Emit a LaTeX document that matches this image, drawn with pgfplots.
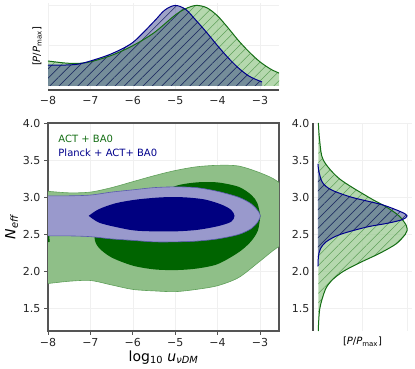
\documentclass[border=0pt]{standalone}
\usepackage{fontspec}
\setmainfont{DejaVu Sans}
\usepackage{pgfplots}
\usepackage{pgfplotstable}
\pgfplotsset{compat=1.18}
\usetikzlibrary{patterns.meta}

\definecolor{cgreenlt}{RGB}{143,191,136}
\definecolor{cgreenedge}{RGB}{95,160,90}
\definecolor{cgreendk}{RGB}{0,100,0}
\definecolor{clav}{RGB}{153,153,204}
\definecolor{claved}{RGB}{90,90,175}
\definecolor{cnavy}{RGB}{0,0,128}
\definecolor{cgfill}{RGB}{150,200,140}
\definecolor{cbfill}{RGB}{40,50,130}
\definecolor{cgline}{RGB}{20,110,20}
\definecolor{cbline}{RGB}{0,0,140}
\definecolor{cspine}{RGB}{85,85,85}

% marginal of log10 u (top)
\pgfplotstableread{
x P
-8.0 0.31
-7.6 0.285
-7.3 0.28
-7.0 0.30
-6.5 0.38
-6.0 0.50
-5.5 0.66
-5.0 0.88
-4.75 0.96
-4.5 1.0
-4.25 0.97
-4.0 0.87
-3.75 0.72
-3.5 0.56
-3.25 0.42
-3.0 0.30
-2.75 0.21
-2.55 0.16
}\topact
\pgfplotstableread{
x P
-8.0 0.26
-7.6 0.26
-7.3 0.27
-7.0 0.31
-6.5 0.40
-6.0 0.54
-5.5 0.80
-5.25 0.94
-5.0 1.0
-4.75 0.95
-4.5 0.81
-4.25 0.66
-4.0 0.50
-3.75 0.35
-3.5 0.22
-3.25 0.12
-3.0 0.06
-2.95 0.05
}\topplanck

% marginal of Neff (right)
\pgfplotstableread{
P N
0.004 4.0
0.02 3.75
0.06 3.5
0.24 3.25
0.57 3.0
0.76 2.875
0.91 2.75
0.99 2.625
1.0 2.55
0.98 2.5
0.88 2.375
0.70 2.25
0.48 2.125
0.28 2.0
0.15 1.875
0.08 1.75
0.02 1.5
0.003 1.2
}\rightact
\pgfplotstableread{
P N
0.0 3.45
0.01 3.35
0.05 3.2
0.15 3.1
0.38 3.0
0.72 2.9
0.94 2.8
1.0 2.75
0.95 2.7
0.78 2.65
0.55 2.6
0.25 2.5
0.09 2.4
0.025 2.3
0.005 2.2
0.0 2.07
}\rightplanck

\begin{document}
\begin{tikzpicture}
\useasboundingbox (0,0) rectangle (415pt,369pt);

% ---------------- main 2D panel ----------------
\begin{axis}[
    at={(48pt,38pt)}, anchor=south west,
    scale only axis, width=231pt, height=208pt,
    xmin=-8, xmax=-2.55, ymin=1.2, ymax=4.0,
    xtick={-8,-7,-6,-5,-4,-3},
    xticklabels={−8,−7,−6,−5,−4,−3},
    ytick={1.5,2,2.5,3,3.5,4},
    yticklabels={1.5,2.0,2.5,3.0,3.5,4.0},
    tick label style={font=\fontsize{11}{13}\selectfont, text=black!85},
    tick align=outside, major tick length=4pt,
    tick style={cspine, line width=0.8pt},
    xtick pos=bottom, ytick pos=left,
    axis line style={cspine, line width=1.3pt},
    grid=major, grid style={black!6, line width=0.5pt},
    xlabel={log\textsubscript{10} \textit{u}\textsubscript{\itshape νDM}},
    ylabel={\textit{N}\textsubscript{\itshape eff}},
    label style={font=\fontsize{14}{16}\selectfont},
    xlabel style={yshift=3pt},
    ylabel style={yshift=-2pt},
]
\addplot[smooth, fill=cgreenlt, draw=cgreenedge, line width=0.6pt] coordinates {
(-8.5,3.10) (-8.0,3.08) (-7.5,3.06) (-7.0,3.07) (-6.5,3.13) (-6.0,3.21)
(-5.5,3.29) (-5.0,3.36) (-4.5,3.41) (-4.0,3.43) (-3.5,3.42) (-3.0,3.33)
(-2.6,3.22) (-2.2,3.0) (-2.0,2.75) (-2.2,2.45) (-2.6,2.32) (-3.0,2.14)
(-3.5,1.92) (-4.0,1.81) (-4.5,1.76) (-5.0,1.73) (-5.5,1.74) (-6.0,1.76)
(-6.5,1.82) (-7.0,1.88) (-7.5,1.87) (-8.0,1.84) (-8.5,1.82) (-8.6,2.5) (-8.5,3.10)};
\addplot[smooth, fill=cgreendk, draw=none] coordinates {
(-2.99,2.75) (-3.05,2.55) (-3.22,2.40) (-3.5,2.26) (-4.0,2.10) (-4.5,2.04)
(-5.0,2.02) (-5.5,2.03) (-6.0,2.08) (-6.5,2.19) (-6.8,2.32) (-6.9,2.45)
(-6.8,2.62) (-6.3,2.80) (-5.5,3.0) (-5.0,3.15) (-4.5,3.20) (-4.0,3.20)
(-3.5,3.14) (-3.2,3.03) (-3.06,2.92) (-2.99,2.75)};
\addplot[fill=cgreendk, draw=none] coordinates {
(-8.2,2.50) (-7.97,2.48) (-7.96,2.40) (-8.2,2.37)};
\addplot[smooth, fill=clav, draw=claved, line width=0.6pt] coordinates {
(-8.5,3.02) (-8.0,3.02) (-7.5,3.02) (-7.0,3.03) (-6.5,3.07) (-6.0,3.10)
(-5.5,3.13) (-5.0,3.14) (-4.5,3.13) (-4.0,3.08) (-3.5,3.0) (-3.2,2.91)
(-3.05,2.82) (-2.99,2.75) (-3.05,2.67) (-3.2,2.58) (-3.5,2.50) (-4.0,2.44)
(-4.5,2.41) (-5.0,2.40) (-5.5,2.40) (-6.0,2.42) (-6.5,2.44) (-7.0,2.47)
(-7.5,2.48) (-8.0,2.48) (-8.5,2.48) (-8.5,3.02)};
\addplot[smooth, fill=cnavy, draw=none] coordinates {
(-7.04,2.75) (-6.8,2.84) (-6.4,2.92) (-5.9,2.97) (-5.3,3.0) (-4.8,3.0)
(-4.3,2.97) (-3.9,2.90) (-3.68,2.83) (-3.6,2.75) (-3.68,2.67) (-4.0,2.61)
(-4.5,2.56) (-5.1,2.54) (-5.9,2.55) (-6.4,2.60) (-6.8,2.66) (-7.04,2.75)};
\node[anchor=west, text=cgline, font=\fontsize{10}{12}\selectfont] at (rel axis cs:0.03,0.925) {ACT + BA0};
\node[anchor=west, text=cbline, font=\fontsize{10}{12}\selectfont] at (rel axis cs:0.03,0.855) {Planck + ACT+ BA0};
\end{axis}

% ---------------- top marginal ----------------
\begin{axis}[
    at={(48pt,279pt)}, anchor=south west,
    scale only axis, width=231pt, height=87pt,
    xmin=-8, xmax=-2.55, ymin=-0.05, ymax=1.03,
    xtick={-8,-7,-6,-5,-4,-3},
    xticklabels={−8,−7,−6,−5,−4,−3},
    ytick={0.5,1}, yticklabels={},
    tick style={draw=none},
    tick label style={font=\fontsize{11}{13}\selectfont, text=black!85},
    xticklabel style={yshift=-3pt},
    axis line style={draw=none},
    grid=major, grid style={black!6, line width=0.5pt},
    ylabel={[\textit{P}/\textit{P}\textsubscript{max}]},
    ylabel style={font=\fontsize{10}{12}\selectfont, yshift=-4pt},
    clip=false,
    extra description/.code={
      \draw[black!70, line width=1.8pt] (rel axis cs:0,0) -- (rel axis cs:1,0);
    },
]
\addplot[smooth, draw=none, fill=cgfill, fill opacity=0.7] table[x=x,y=P]{\topact} \closedcycle;
\addplot[smooth, draw=none, pattern={Lines[angle=45,distance=6.6pt,line width=0.5pt]}, pattern color=cgreenedge] table[x=x,y=P]{\topact} \closedcycle;
\addplot[smooth, draw=none, fill=cbfill, fill opacity=0.45] table[x=x,y=P]{\topplanck} \closedcycle;
\addplot[smooth, draw=none, pattern={Lines[angle=45,distance=6.6pt,line width=0.5pt]}, pattern color=cbfill!80!black] table[x=x,y=P]{\topplanck} \closedcycle;
\addplot[smooth, cgline, line width=1pt] table[x=x,y=P]{\topact};
\addplot[smooth, cbline, line width=1pt] table[x=x,y=P]{\topplanck};
\end{axis}

% ---------------- right marginal ----------------
\begin{axis}[
    at={(313pt,38pt)}, anchor=south west,
    scale only axis, width=99pt, height=208pt,
    xmin=-0.056, xmax=1.056, ymin=1.2, ymax=4.0,
    xtick={0.5,1}, xticklabels={},
    ytick={1.5,2,2.5,3,3.5,4},
    yticklabels={1.5,2.0,2.5,3.0,3.5,4.0},
    tick style={draw=none},
    tick label style={font=\fontsize{11}{13}\selectfont, text=black!85},
    axis line style={draw=none},
    grid=major, grid style={black!6, line width=0.5pt},
    xlabel={[\textit{P}/\textit{P}\textsubscript{max}]},
    xlabel style={font=\fontsize{10}{12}\selectfont, yshift=4pt},
    clip=false,
    extra description/.code={
      \draw[black!70, line width=1.8pt] (rel axis cs:0,0) -- (rel axis cs:0,1);
    },
]
\addplot[smooth, draw=none, fill=cgfill, fill opacity=0.7] table[x=P,y=N]{\rightact};
\addplot[smooth, draw=none, pattern={Lines[angle=45,distance=6.6pt,line width=0.5pt]}, pattern color=cgreenedge] table[x=P,y=N]{\rightact};
\addplot[smooth, draw=none, fill=cbfill, fill opacity=0.45] table[x=P,y=N]{\rightplanck};
\addplot[smooth, draw=none, pattern={Lines[angle=45,distance=6.6pt,line width=0.5pt]}, pattern color=cbfill!80!black] table[x=P,y=N]{\rightplanck};
\addplot[smooth, cgline, line width=1pt] table[x=P,y=N]{\rightact};
\addplot[smooth, cbline, line width=1pt] table[x=P,y=N]{\rightplanck};
\end{axis}
\end{tikzpicture}
\end{document}
